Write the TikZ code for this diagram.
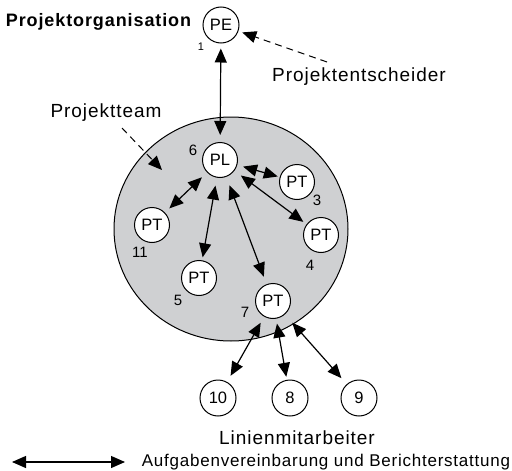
\documentclass[tikz,border=0pt]{standalone}
\usepackage{fontspec}
\setmainfont{Liberation Sans}
\usetikzlibrary{arrows.meta,shapes.geometric}
\definecolor{teamgray}{RGB}{207,208,210}
\newcommand{\lbl}[1]{\fontsize{#1}{#1}\selectfont\addfontfeatures{LetterSpace=5}}
\begin{document}
\begin{tikzpicture}[x=1pt,y=-1pt,
  member/.style={circle,draw,fill=white,line width=1pt,minimum size=35pt,inner sep=0pt,
    font=\fontsize{16.5}{16.5}\selectfont},
  num/.style={inner sep=0pt,font=\fontsize{15}{15}\selectfont},
  link/.style={{Triangle[length=14pt,width=12pt]}-{Triangle[length=14pt,width=12pt]},line width=1.2pt},
  hint/.style={-{Triangle[length=14pt,width=12pt]},dash pattern=on 7pt off 5pt,line width=1pt},
  caption/.style={inner sep=0pt,font=\lbl{19}}]
\useasboundingbox (0,0) rectangle (512,471);

% project team area
\node[ellipse,draw,fill=teamgray,line width=1pt,minimum width=234pt,minimum height=224pt,inner sep=0pt]
  (team) at (231,229) {};

% members
\node[member,minimum size=36pt] (pe) at (221,25) {PE};
\node[member] (pl) at (220,160) {PL};
\node[member] (pt3) at (297,182) {PT};
\node[member] (pt4) at (321,235) {PT};
\node[member] (pt11) at (152,225) {PT};
\node[member] (pt5) at (199,278) {PT};
\node[member] (pt7) at (273,301) {PT};
\node[member,minimum size=36pt] (m10) at (218,398) {10};
\node[member,minimum size=36pt] (m8) at (290,398) {8};
\node[member,minimum size=36pt] (m9) at (359,398) {9};

% numbers
\node[inner sep=0pt,font=\fontsize{11}{11}\selectfont] (n1) at (201,47) {1};
\node[num] (n6) at (193,150) {6};
\node[num] (n3) at (317,200) {3};
\node[num] (n4) at (310,265) {4};
\node[num] (n11) at (140,252) {11};
\node[num] (n5) at (178,300) {5};
\node[num] (n7) at (245,312) {7};

% texts
\node[inner sep=0pt,font=\bfseries\lbl{18}] (org) at (98.5,22) {Projektorganisation};
\node[caption] (pent) at (359,77) {Projektentscheider};
\node[caption] (pteam) at (106,113) {Projektteam};
\node[caption] (line) at (297,438) {Linienmitarbeiter};
\node[inner sep=0pt,font=\lbl{17}\addfontfeatures{LetterSpace=4.5}] (legtext) at (326,462) {Aufgabenvereinbarung und Berichterstattung};

% pointers
\coordinate (pentfrom) at (327,62);
\coordinate (pteamfrom) at (122,128);
\coordinate (pteamto) at (162,170);
\draw[hint,shorten >=4pt] (pentfrom) -- (pe);
\draw[hint] (pteamfrom) -- (pteamto);

% task agreement and reporting
\draw[link,shorten <=5pt,shorten >=7pt] (pe) -- (pl);
\draw[link,shorten <=6pt,shorten >=2pt] (pl) -- (pt3);
\draw[link,shorten <=8pt,shorten >=4pt] (pl) -- (pt4);
\draw[link,shorten <=9pt,shorten >=8pt] (pl) -- (pt7);
\draw[link,shorten <=8pt,shorten >=3pt] (pl) -- (pt5);
\draw[link,shorten <=7pt,shorten >=6pt] (pl) -- (pt11);
\draw[link,shorten <=7pt,shorten >=7pt] (pt7) -- (m10);
\draw[link,shorten <=5pt,shorten >=3pt] (pt7) -- (m8);
\draw[link,shorten <=11pt,shorten >=8pt] (pt7) -- (m9);

% legend
\coordinate (legl) at (12,462);
\coordinate (legr) at (125,462);
\draw[link] (legl) -- (legr);
\end{tikzpicture}
\end{document}
